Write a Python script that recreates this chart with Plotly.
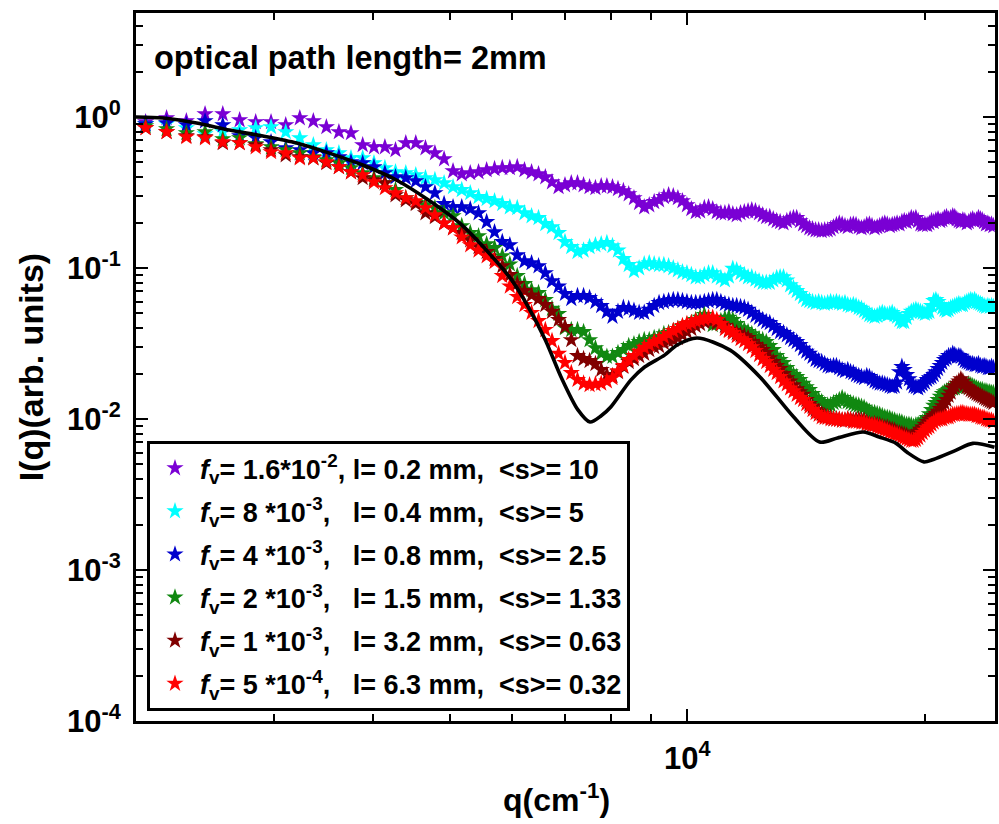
import plotly.graph_objects as go

# ---------------- data ----------------
Q = [2060, 2190, 2320, 2450, 2580, 2710, 2840, 2970, 3100, 3230,
     3360, 3490, 3620, 3750, 3880, 4010, 4140, 4270, 4400, 4530,
     4660, 4790, 4920, 5050, 5180, 5310, 5440, 5570, 5700, 5830,
     5960, 6090, 6220, 6350, 6480, 6610, 6740, 6870, 7000, 7130,
     7260, 7390, 7520, 7650, 7780, 7910, 8040, 8170, 8300, 8430,
     8560, 8690, 8820, 8950, 9080, 9210, 9340, 9470, 9600, 9730,
     9860, 9990, 10120, 10250, 10380, 10510, 10640, 10770, 10900, 11030,
     11160, 11290, 11420, 11550, 11680, 11810, 11940, 12070, 12200, 12330,
     12460, 12590, 12720, 12850, 12980, 13110, 13240, 13370, 13500, 13630,
     13760, 13890, 14020, 14150, 14280, 14410, 14540, 14670, 14800, 14930,
     15060, 15190, 15320, 15450, 15580, 15710, 15840, 15970, 16100, 16230,
     16360, 16490, 16620, 16750, 16880, 17010, 17140, 17270, 17400, 17530,
     17660, 17790, 17920, 18050, 18180, 18310, 18440, 18570, 18700, 18830,
     18960, 19090, 19220, 19350, 19480, 19610, 19740, 19870, 20000, 20130,
     20260, 20390, 20520, 20650, 20780, 20910, 21040, 21170, 21300, 21430,
     21560, 21690, 21820, 21950, 22080, 22210, 22340, 22470, 22600, 22730,
     22860, 22990, 23120, 23250, 23380, 23510, 23640, 23770, 23900, 24030,
     24160, 24290, 24420]

I_purple = [0.927, 0.985, 0.941, 1.047, 1.047, 0.955, 0.927, 0.927, 0.885, 0.985,
            0.941, 0.859, 0.796, 0.784, 0.653, 0.633, 0.633, 0.605, 0.673, 0.673,
            0.623, 0.577, 0.527, 0.439, 0.419, 0.426, 0.432, 0.446, 0.453, 0.460,
            0.460, 0.467, 0.446, 0.432, 0.419, 0.400, 0.371, 0.344, 0.354, 0.365,
            0.365, 0.354, 0.344, 0.339, 0.349, 0.349, 0.344, 0.334, 0.324, 0.309,
            0.291, 0.270, 0.253, 0.261, 0.274, 0.282, 0.296, 0.304, 0.300, 0.291,
            0.278, 0.261, 0.246, 0.235, 0.238, 0.250, 0.253, 0.246, 0.235, 0.231,
            0.231, 0.235, 0.228, 0.224, 0.231, 0.235, 0.238, 0.242, 0.238, 0.231,
            0.224, 0.218, 0.218, 0.211, 0.205, 0.202, 0.198, 0.205, 0.211, 0.215,
            0.215, 0.205, 0.195, 0.190, 0.184, 0.181, 0.178, 0.178, 0.176, 0.178,
            0.178, 0.181, 0.187, 0.193, 0.198, 0.195, 0.190, 0.187, 0.193, 0.195,
            0.193, 0.187, 0.184, 0.187, 0.193, 0.195, 0.190, 0.184, 0.187, 0.190,
            0.195, 0.198, 0.195, 0.190, 0.193, 0.195, 0.198, 0.195, 0.202, 0.205,
            0.202, 0.208, 0.215, 0.211, 0.215, 0.205, 0.195, 0.193, 0.195, 0.193,
            0.198, 0.205, 0.202, 0.208, 0.211, 0.205, 0.208, 0.215, 0.218, 0.211,
            0.215, 0.221, 0.218, 0.211, 0.205, 0.202, 0.208, 0.205, 0.198, 0.202,
            0.208, 0.211, 0.205, 0.208, 0.215, 0.211, 0.208, 0.202, 0.195, 0.198,
            0.193, 0.195, 0.190]

I_cyan = [0.899, 0.899, 0.846, 0.772, 0.796, 0.820, 0.846, 0.859, 0.796, 0.726,
          0.653, 0.605, 0.577, 0.535, 0.535, 0.496, 0.460, 0.432, 0.426, 0.413,
          0.395, 0.383, 0.365, 0.344, 0.329, 0.314, 0.296, 0.287, 0.278, 0.266,
          0.253, 0.250, 0.231, 0.221, 0.215, 0.196, 0.187, 0.171, 0.149, 0.138,
          0.128, 0.131, 0.138, 0.142, 0.144, 0.147, 0.140, 0.131, 0.115, 0.105,
          0.0956, 0.100, 0.106, 0.108, 0.106, 0.105, 0.105, 0.103, 0.100, 0.097,
          0.094, 0.0927, 0.090, 0.087, 0.087, 0.090, 0.0927, 0.0927, 0.088, 0.086,
          0.083, 0.088, 0.099, 0.097, 0.0927, 0.090, 0.087, 0.087, 0.084, 0.082,
          0.080, 0.080, 0.080, 0.083, 0.086, 0.087, 0.087, 0.083, 0.077, 0.0738,
          0.0706, 0.0675, 0.0645, 0.0615, 0.0606, 0.0597, 0.0588, 0.0597, 0.0588, 0.0580,
          0.0588, 0.0597, 0.0588, 0.0597, 0.0588, 0.0580, 0.0588, 0.0570, 0.0562, 0.0570,
          0.0562, 0.0546, 0.0538, 0.0522, 0.0506, 0.0490, 0.0484, 0.0477, 0.0484, 0.0498,
          0.0506, 0.0498, 0.0490, 0.0498, 0.0506, 0.0490, 0.0477, 0.0454, 0.0440, 0.0440,
          0.0470, 0.0498, 0.0514, 0.0522, 0.0530, 0.0522, 0.0514, 0.0506, 0.0498, 0.0506,
          0.0514, 0.0562, 0.0606, 0.0615, 0.0597, 0.0570, 0.0546, 0.0530, 0.0522, 0.0530,
          0.0546, 0.0554, 0.0562, 0.0570, 0.0580, 0.0570, 0.0570, 0.0588, 0.0597, 0.0606,
          0.0615, 0.0606, 0.0615, 0.0597, 0.0588, 0.0580, 0.0570, 0.0562, 0.0554, 0.0562,
          0.0554, 0.0562, 0.0554]

I_blue = [0.899, 0.912, 0.885, 0.941, 0.885, 0.749, 0.726, 0.683, 0.623, 0.605,
          0.577, 0.577, 0.543, 0.503, 0.496, 0.467, 0.426, 0.400, 0.395, 0.377,
          0.344, 0.314, 0.266, 0.253, 0.253, 0.246, 0.231, 0.202, 0.173, 0.149,
          0.142, 0.122, 0.111, 0.108, 0.103, 0.0927, 0.082, 0.0757, 0.0676, 0.0625,
          0.0654, 0.0654, 0.0635, 0.0597, 0.0562, 0.0514, 0.0477, 0.0514, 0.0546, 0.0538,
          0.0522, 0.0506, 0.0506, 0.0530, 0.0562, 0.0588, 0.0597, 0.0606, 0.0615, 0.0615,
          0.0606, 0.0597, 0.0588, 0.0588, 0.0588, 0.0597, 0.0606, 0.0615, 0.0615, 0.0597,
          0.0580, 0.0570, 0.0562, 0.0562, 0.0554, 0.0546, 0.0530, 0.0506, 0.0484, 0.0470,
          0.0454, 0.0440, 0.0433, 0.0414, 0.0396, 0.0378, 0.0372, 0.0360, 0.0345, 0.0334,
          0.0324, 0.0310, 0.0293, 0.0280, 0.0271, 0.0259, 0.0247, 0.0243, 0.0239, 0.0232,
          0.0225, 0.0222, 0.0225, 0.0225, 0.0218, 0.0212, 0.0208, 0.0212, 0.0205, 0.0202,
          0.0196, 0.0193, 0.0190, 0.0187, 0.0193, 0.0190, 0.0184, 0.0178, 0.0175, 0.0172,
          0.0172, 0.0170, 0.0168, 0.0165, 0.0163, 0.0165, 0.0175, 0.0205, 0.0222, 0.0212,
          0.0196, 0.0184, 0.0172, 0.0165, 0.0163, 0.0160, 0.0165, 0.0170, 0.0175, 0.0182,
          0.0187, 0.0190, 0.0196, 0.0205, 0.0215, 0.0225, 0.0236, 0.0247, 0.0253, 0.0262,
          0.0262, 0.0271, 0.0266, 0.0259, 0.0262, 0.0259, 0.0250, 0.0243, 0.0239, 0.0236,
          0.0232, 0.0232, 0.0228, 0.0228, 0.0232, 0.0225, 0.0222, 0.0225, 0.0222, 0.0218,
          0.0218, 0.0222, 0.0218]

I_green = [0.872, 0.833, 0.784, 0.796, 0.715, 0.726, 0.663, 0.633, 0.605, 0.577,
           0.543, 0.519, 0.496, 0.460, 0.426, 0.395, 0.365, 0.329, 0.291, 0.270,
           0.261, 0.250, 0.231, 0.221, 0.190, 0.171, 0.163, 0.144, 0.136, 0.120,
           0.106, 0.0887, 0.0787, 0.0715, 0.0685, 0.0615, 0.0538, 0.0498, 0.0401, 0.0390,
           0.0390, 0.0378, 0.0334, 0.0295, 0.0271, 0.0259, 0.0259, 0.0274, 0.0287, 0.0305,
           0.0314, 0.0324, 0.0334, 0.0334, 0.0345, 0.0350, 0.0366, 0.0372, 0.0384, 0.0396,
           0.0408, 0.0420, 0.0434, 0.0454, 0.0470, 0.0490, 0.0454, 0.0420, 0.0427, 0.0447,
           0.0462, 0.0470, 0.0454, 0.0427, 0.0401, 0.0390, 0.0378, 0.0366, 0.0350, 0.0339,
           0.0334, 0.0324, 0.0305, 0.0287, 0.0262, 0.0247, 0.0236, 0.0218, 0.0205, 0.0196,
           0.0190, 0.0182, 0.0172, 0.0163, 0.0156, 0.0147, 0.0138, 0.0134, 0.0130, 0.0124,
           0.0123, 0.0124, 0.0128, 0.0130, 0.0134, 0.0138, 0.0134, 0.0130, 0.0128, 0.0126,
           0.0124, 0.0123, 0.0121, 0.0119, 0.0115, 0.0112, 0.0110, 0.0110, 0.0108, 0.0107,
           0.0105, 0.0103, 0.0102, 0.0101, 0.0099, 0.0098, 0.0096, 0.0096, 0.0095, 0.0093,
           0.0092, 0.0092, 0.0091, 0.0089, 0.0091, 0.0092, 0.0093, 0.0095, 0.0098, 0.0102,
           0.0108, 0.0115, 0.0123, 0.0128, 0.0134, 0.0141, 0.0147, 0.0151, 0.0153, 0.0156,
           0.0158, 0.0160, 0.0160, 0.0163, 0.0163, 0.0165, 0.0165, 0.0168, 0.0168, 0.0170,
           0.0168, 0.0165, 0.0163, 0.0160, 0.0158, 0.0156, 0.0156, 0.0153, 0.0153, 0.0151,
           0.0151, 0.0149, 0.0149]

I_darkred = [0.846, 0.796, 0.749, 0.738, 0.673, 0.673, 0.653, 0.605, 0.560, 0.543,
             0.535, 0.496, 0.467, 0.432, 0.395, 0.383, 0.365, 0.304, 0.282, 0.266,
             0.231, 0.218, 0.198, 0.184, 0.171, 0.153, 0.138, 0.128, 0.115, 0.103,
             0.090, 0.0787, 0.0706, 0.0660, 0.0625, 0.0570, 0.0514, 0.0454, 0.0408, 0.0334,
             0.0262, 0.0250, 0.0243, 0.0232, 0.0212, 0.0196, 0.0193, 0.0205, 0.0222, 0.0239,
             0.0250, 0.0262, 0.0271, 0.0287, 0.0300, 0.0305, 0.0319, 0.0329, 0.0334, 0.0345,
             0.0360, 0.0378, 0.0396, 0.0414, 0.0427, 0.0440, 0.0454, 0.0447, 0.0433, 0.0427,
             0.0414, 0.0390, 0.0384, 0.0372, 0.0360, 0.0355, 0.0345, 0.0324, 0.0310, 0.0300,
             0.0287, 0.0274, 0.0253, 0.0239, 0.0225, 0.0215, 0.0199, 0.0187, 0.0178, 0.0168,
             0.0158, 0.0151, 0.0145, 0.0134, 0.0126, 0.0121, 0.0115, 0.0112, 0.0108, 0.0105,
             0.0103, 0.0102, 0.0100, 0.0100, 0.0099, 0.0098, 0.0098, 0.0100, 0.0099, 0.0098,
             0.0099, 0.0099, 0.0098, 0.0098, 0.0095, 0.0093, 0.0092, 0.0093, 0.0092, 0.0091,
             0.0089, 0.0088, 0.0088, 0.0086, 0.0085, 0.0084, 0.0082, 0.0081, 0.0080, 0.0079,
             0.0078, 0.0076, 0.0076, 0.0078, 0.0080, 0.0082, 0.0085, 0.0088, 0.0092, 0.0096,
             0.0099, 0.0102, 0.0105, 0.0108, 0.0112, 0.0117, 0.0122, 0.0128, 0.0134, 0.0143,
             0.0150, 0.0160, 0.0165, 0.0172, 0.0178, 0.0184, 0.0178, 0.0170, 0.0163, 0.0160,
             0.0156, 0.0153, 0.0150, 0.0147, 0.0145, 0.0143, 0.0141, 0.0138, 0.0136, 0.0134,
             0.0132, 0.0130, 0.0128]

I_red = [0.846, 0.796, 0.738, 0.726, 0.683, 0.673, 0.633, 0.587, 0.577, 0.535,
         0.535, 0.503, 0.467, 0.432, 0.413, 0.371, 0.339, 0.314, 0.291, 0.278,
         0.250, 0.224, 0.198, 0.184, 0.160, 0.142, 0.131, 0.120, 0.110, 0.0887,
         0.0757, 0.0645, 0.0570, 0.0506, 0.0447, 0.0390, 0.0329, 0.0271, 0.0236, 0.0202,
         0.0182, 0.0172, 0.0168, 0.0170, 0.0172, 0.0178, 0.0187, 0.0208, 0.0225, 0.0247,
         0.0262, 0.0280, 0.0297, 0.0310, 0.0324, 0.0334, 0.0350, 0.0366, 0.0384, 0.0396,
         0.0414, 0.0427, 0.0433, 0.0447, 0.0454, 0.0462, 0.0470, 0.0470, 0.0454, 0.0427,
         0.0396, 0.0384, 0.0372, 0.0355, 0.0339, 0.0329, 0.0314, 0.0300, 0.0283, 0.0266,
         0.0250, 0.0239, 0.0225, 0.0212, 0.0202, 0.0190, 0.0178, 0.0170, 0.0160, 0.0153,
         0.0145, 0.0138, 0.0134, 0.0126, 0.0121, 0.0115, 0.0110, 0.0107, 0.0103, 0.0102,
         0.0102, 0.0100, 0.0100, 0.0099, 0.0099, 0.0098, 0.0098, 0.0099, 0.0098, 0.0096,
         0.0096, 0.0096, 0.0095, 0.0095, 0.0093, 0.0092, 0.0091, 0.0091, 0.0089, 0.0088,
         0.0087, 0.0085, 0.0084, 0.0082, 0.0081, 0.0080, 0.0079, 0.0078, 0.0076, 0.0075,
         0.0074, 0.0073, 0.0072, 0.0072, 0.0073, 0.0075, 0.0078, 0.0081, 0.0084, 0.0087,
         0.0089, 0.0092, 0.0095, 0.0098, 0.0099, 0.0100, 0.0100, 0.0102, 0.0103, 0.0103,
         0.0105, 0.0107, 0.0107, 0.0108, 0.0108, 0.0110, 0.0110, 0.0108, 0.0108, 0.0107,
         0.0107, 0.0107, 0.0107, 0.0105, 0.0105, 0.0103, 0.0102, 0.0102, 0.0100, 0.0099,
         0.0098, 0.0098, 0.0096]

# theoretical (single-scattering) curve
Q_theory = [2000, 2170, 2390, 2630, 2900, 3200, 3520, 3880, 4280, 4700,
            5180, 5710, 5990, 6290, 6610, 6920, 7270, 7530, 7780, 8000,
            8480, 8830, 9360, 9710, 10290, 11330, 12360, 13640, 14710, 15500,
            16710, 17500, 18390, 19000, 19940, 20500, 21880, 23000, 24500]
I_theory = [1.0, 0.985, 0.912, 0.820, 0.749, 0.673, 0.577, 0.481, 0.383, 0.282,
            0.193, 0.113, 0.0835, 0.0552, 0.0334, 0.0190, 0.0115, 0.00955, 0.0105, 0.0120,
            0.0181, 0.0221, 0.0265, 0.0309, 0.0344, 0.0286, 0.0190, 0.0103, 0.00704, 0.0075,
            0.0082, 0.0076, 0.0069, 0.0060, 0.0052, 0.0054, 0.0062, 0.0069, 0.0065]

legend_labels = [
    "<i>f</i><sub>v</sub>= 1.6*10<sup>-2</sup>, l= 0.2 mm,&nbsp; &lt;s&gt;= 10",
    "<i>f</i><sub>v</sub>= 8 *10<sup>-3</sup>,&nbsp;&nbsp; l= 0.4 mm,&nbsp; &lt;s&gt;= 5",
    "<i>f</i><sub>v</sub>= 4 *10<sup>-3</sup>,&nbsp;&nbsp; l= 0.8 mm,&nbsp; &lt;s&gt;= 2.5",
    "<i>f</i><sub>v</sub>= 2 *10<sup>-3</sup>,&nbsp;&nbsp; l= 1.5 mm,&nbsp; &lt;s&gt;= 1.33",
    "<i>f</i><sub>v</sub>= 1 *10<sup>-3</sup>,&nbsp;&nbsp; l= 3.2 mm,&nbsp; &lt;s&gt;= 0.63",
    "<i>f</i><sub>v</sub>= 5 *10<sup>-4</sup>,&nbsp;&nbsp; l= 6.3 mm,&nbsp; &lt;s&gt;= 0.32",
]
series = [I_purple, I_cyan, I_blue, I_green, I_darkred, I_red]
colors = ["#7A00D4", "#00FFFF", "#0000CD", "#118811", "#800000", "#FF0000"]

y_tickvals = [1e-4, 1e-3, 1e-2, 1e-1, 1]
y_ticktext = ["10<sup>-4</sup>", "10<sup>-3</sup>", "10<sup>-2</sup>", "10<sup>-1</sup>", "10<sup>0</sup>"]
x_tickvals = [10000]
x_ticktext = ["10<sup>4</sup>"]

FONT = "Liberation Sans"

fig = go.Figure()
for i, (vals, col, lab) in enumerate(zip(series, colors, legend_labels)):
    fig.add_trace(go.Scatter(
        x=Q, y=vals, mode="markers", name=lab, legendgroup=f"g{i}",
        marker=dict(symbol="star", size=13, color=col, line=dict(width=0)),
    ))
fig.add_trace(go.Scatter(
    x=Q_theory, y=I_theory, mode="lines", showlegend=False,
    line=dict(color="black", width=3.6, shape="spline", smoothing=0.8),
))

y_minor = [m * 10 ** e for e in range(-4, 1) for m in range(2, 10) if m * 10 ** e < 4.9]
x_minor = [3000, 4000, 5000, 6000, 7000, 8000, 9000, 20000]

tickfont = dict(family=FONT, size=31, color="black", weight="bold")
axis_common = dict(
    showgrid=False, zeroline=False, showline=True, linecolor="black", linewidth=3,
    mirror="ticks", ticks="inside", ticklen=12, tickwidth=2, tickcolor="black",
    tickfont=tickfont,
)

fig.update_xaxes(
    type="log", range=[3.3017, 4.3898], tickmode="array",
    tickvals=x_tickvals, ticktext=x_ticktext, ticklabelstandoff=8,
    minor=dict(tickmode="array", tickvals=x_minor, ticks="inside", ticklen=7,
               tickwidth=2, tickcolor="black", showgrid=False),
    **axis_common,
)
fig.update_yaxes(
    type="log", range=[-4, 0.689], tickmode="array",
    tickvals=y_tickvals, ticktext=y_ticktext, ticklabelstandoff=6,
    minor=dict(tickmode="array", tickvals=y_minor, ticks="inside", ticklen=7,
               tickwidth=2, tickcolor="black", showgrid=False),
    **axis_common,
)

fig.update_layout(
    width=999, height=824,
    margin=dict(l=136, r=1, t=13, b=103),
    plot_bgcolor="white", paper_bgcolor="white",
    showlegend=True,
    legend=dict(
        x=0.0128, y=0.3955, xanchor="left", yanchor="top",
        bordercolor="black", borderwidth=3, bgcolor="white",
        font=dict(family=FONT, size=27, color="black", weight="bold"),
        traceorder="grouped", tracegroupgap=5, itemsizing="trace", itemwidth=40,
    ),
    annotations=[
        dict(text="optical path length= 2mm", xref="paper", yref="paper",
             x=0.0186, y=0.936, xanchor="left", yanchor="middle", showarrow=False,
             font=dict(family=FONT, size=32.5, color="black", weight="bold")),
        dict(text="I(q)(arb. units)", xref="paper", yref="paper",
             x=-0.1218, y=0.5, xanchor="center", yanchor="middle", textangle=-90,
             showarrow=False,
             font=dict(family=FONT, size=34, color="black", weight="bold")),
        dict(text="q(cm<sup>-1</sup>)", xref="paper", yref="paper",
             x=0.49, y=-0.109, xanchor="center", yanchor="middle", showarrow=False,
             font=dict(family=FONT, size=32, color="black", weight="bold")),
    ],
)

fig.write_html("out.html")
